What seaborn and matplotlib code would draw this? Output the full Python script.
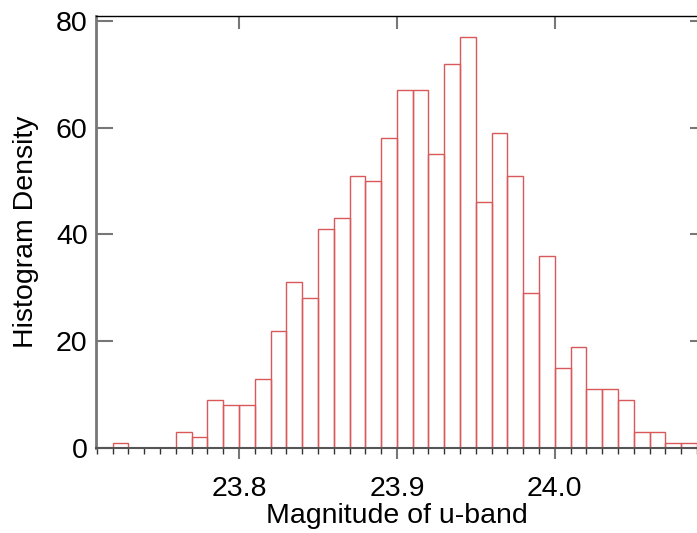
import numpy as np
import pandas as pd
import matplotlib
matplotlib.use("Agg")
import matplotlib.pyplot as plt
import seaborn as sns
from matplotlib.ticker import MultipleLocator

# Data: histogram bins of width 0.01 starting at 23.72
bin_left = [round(23.72 + 0.01 * i, 2) for i in range(37)]
counts = [1, 0, 0, 0, 3, 2, 9, 8, 8, 13, 22, 31, 28, 41, 43, 51, 50, 58,
          67, 67, 55, 72, 77, 46, 59, 51, 29, 36, 15, 19, 11, 11, 9, 3, 3, 1, 1]
x_ticks = [23.8, 23.9, 24.0]
x_tick_labels = ["23.8", "23.9", "24.0"]
y_ticks = [0, 20, 40, 60, 80]

sns.set_style("white")
plt.rcParams['font.family'] = ['Liberation Sans', 'DejaVu Sans']
plt.rcParams['text.color'] = 'black'
plt.rcParams['axes.labelcolor'] = 'black'
plt.rcParams['xtick.labelcolor'] = 'black'
plt.rcParams['ytick.labelcolor'] = 'black'

FS = 20.5

edges = [round(23.72 + 0.01 * i, 2) for i in range(38)]
df = pd.DataFrame({"mag": [b + 0.005 for b in bin_left], "n": counts})

fig = plt.figure(figsize=(6.97, 5.33), dpi=100)
ax = fig.add_axes([96 / 697, (533 - 448) / 533, (697 - 96) / 697, (448 - 16) / 533])

sns.histplot(data=df, x="mag", weights="n", bins=edges, fill=False,
             element="bars", color="#d9595b", linewidth=1.0, ax=ax)

ax.set_xlim(23.7095, 24.09)
ax.set_ylim(0, 80.9)
ax.set_xticks(x_ticks)
ax.set_xticklabels(x_tick_labels)
ax.set_yticks(y_ticks)
ax.xaxis.set_minor_locator(MultipleLocator(0.01))

ax.spines["left"].set_color("#777777")
ax.spines["left"].set_linewidth(2)
ax.spines["top"].set_color("black")
ax.spines["top"].set_linewidth(1)
ax.spines["bottom"].set_color("#555555")
ax.spines["bottom"].set_linewidth(1.5)
ax.spines["right"].set_visible(False)

ax.tick_params(axis="x", which="major", direction="out", length=8, width=1.5,
               color="#777777", labelsize=FS, labelcolor="black", pad=12,
               bottom=True, top=True, labeltop=False)
ax.tick_params(axis="x", which="minor", direction="out", length=4, width=1,
               color="#333333", bottom=True, top=False)
ax.tick_params(axis="y", which="major", direction="in", length=12, width=1.5,
               color="#777777", labelsize=FS, labelcolor="black", pad=6,
               left=True, right=True, labelright=False)

# top ticks point inward
for t in ax.xaxis.get_major_ticks():
    t.tick2line.set_marker(3)
    t.tick2line.set_markersize(9)
for t in ax.yaxis.get_major_ticks():
    t.tick2line.set_markersize(5)

ax.set_xlabel("Magnitude of u-band", fontsize=FS, labelpad=1, color="black")
ax.set_ylabel("Histogram Density", fontsize=FS, labelpad=12, color="black")

fig.savefig("out.png", dpi=100)
